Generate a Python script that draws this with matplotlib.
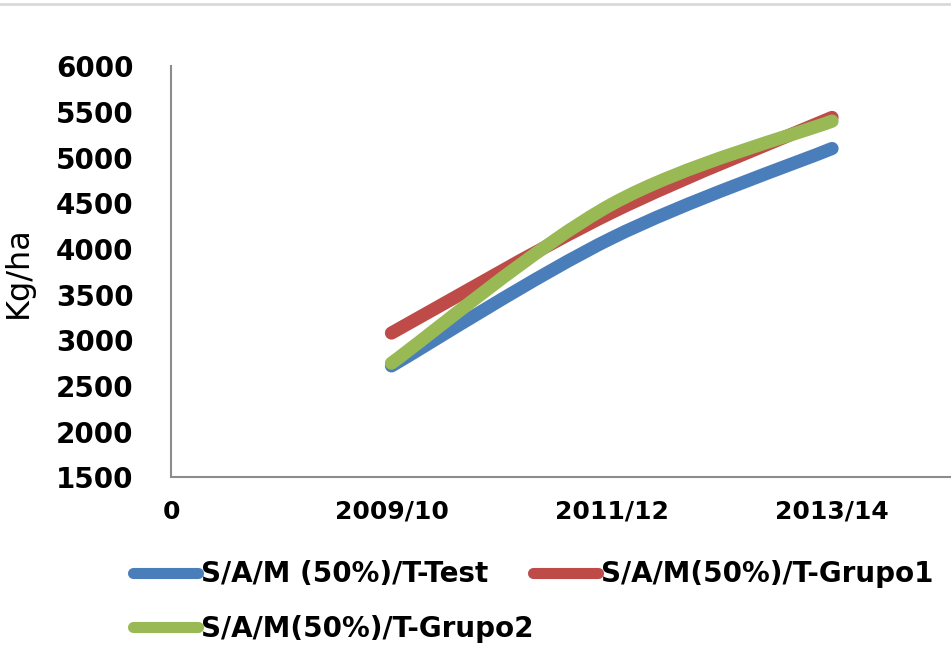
import numpy as np
import matplotlib
matplotlib.use('Agg')
import matplotlib.pyplot as plt
from matplotlib.path import Path
from matplotlib.patches import PathPatch
from matplotlib.lines import Line2D

# data
seasons = ['2009/10', '2011/12', '2013/14']
test = [2720, 4120, 5100]
grupo1 = [3080, 4400, 5440]
grupo2 = [2750, 4490, 5400]
names = ['S/A/M (50%)/T-Test', 'S/A/M(50%)/T-Grupo1', 'S/A/M(50%)/T-Grupo2']
colors = ['#4A7EBB', '#BE4B48', '#98B954']
yticks = [1500, 2000, 2500, 3000, 3500, 4000, 4500, 5000, 5500, 6000]


# smoothed line like the spreadsheet one (catmull-rom style bezier)
def smooth_path(xs, ys):
    pts = np.column_stack([xs, ys]).astype(float)
    n = len(pts)
    verts = [pts[0]]
    codes = [Path.MOVETO]
    for i in range(n - 1):
        p0 = pts[max(i - 1, 0)]
        p1 = pts[i]
        p2 = pts[i + 1]
        p3 = pts[min(i + 2, n - 1)]
        c1 = p1 + (p2 - p0) / 6.0
        c2 = p2 - (p3 - p1) / 6.0
        verts += [c1, c2, p2]
        codes += [Path.CURVE4] * 3
    return Path(verts, codes)


fig = plt.figure(figsize=(9.51, 6.63), dpi=100)
ax = fig.add_axes([0.18, 0.28, 0.82, 0.62])

x = np.arange(1, len(seasons) + 1)
for vals, col in zip([test, grupo1, grupo2], colors):
    ax.add_patch(PathPatch(smooth_path(x, vals), fill=False, edgecolor=col,
                           lw=9.5, capstyle='round', joinstyle='round'))

ax.set_xlim(0, 3.54)
ax.set_ylim(1500, 6000)
ax.set_xticks([0] + list(x))
ax.set_xticklabels(['0'] + seasons, fontsize=18, fontweight='bold')
ax.set_yticks(yticks)
ax.set_yticklabels([str(v) for v in yticks], fontsize=20, fontweight='bold')
ax.tick_params(axis='x', length=0, pad=16)
ax.tick_params(axis='y', length=0, pad=27)
ax.set_ylabel('Kg/ha', fontsize=23)
ax.yaxis.set_label_coords(-0.176, 0.5)

for s in ['top', 'right']:
    ax.spines[s].set_visible(False)
for s in ['left', 'bottom']:
    ax.spines[s].set_color('#8C8C8C')
    ax.spines[s].set_linewidth(1.5)

# legend: row-major order -> Test, Grupo1 / Grupo2
handles = [Line2D([], [], color=c, lw=8, solid_capstyle='round') for c in colors]
order = [0, 2, 1]
fig.legend([handles[i] for i in order], [names[i] for i in order],
           loc='upper left', bbox_to_anchor=(0.14, 0.155), ncol=2,
           frameon=False, prop={'weight': 'bold', 'size': 20},
           handlelength=2.35, handletextpad=0.08, columnspacing=0.0,
           labelspacing=0.95, borderpad=0, borderaxespad=0)

# thin frame line along the top
fig.add_artist(Line2D([0, 1], [0.994, 0.994], color='#D9D9D9', lw=2,
                      transform=fig.transFigure))

fig.savefig('out.png', dpi=100)
